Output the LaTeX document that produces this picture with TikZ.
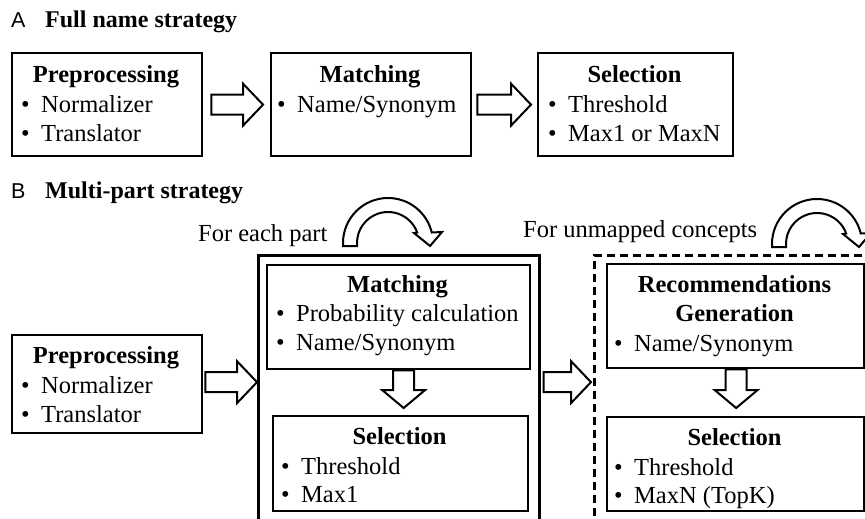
\documentclass[tikz,border=0pt]{standalone}
\usepackage{fontspec}
\setmainfont{Liberation Serif}
\newfontfamily\labfont{Liberation Sans}
\usetikzlibrary{calc}
\tikzset{
 box/.style={draw, line width=2.3pt, anchor=north west, inner sep=0pt},
 txt/.style={inner sep=0pt, font=\fontsize{24.5}{29}\selectfont},
 ttlc/.style={inner sep=0pt, anchor=base, font=\fontsize{24.5}{29}\selectfont\bfseries},
 bul/.style={txt, anchor=base west},
 headline/.style={inner sep=0pt, anchor=base west, font=\fontsize{24}{29}\selectfont\bfseries},
 lab/.style={inner sep=0pt, anchor=base west, font=\labfont\fontsize{21.5}{24}\selectfont},
 barrow/.style={draw, line width=2pt, fill=white, line join=miter},
 curvarrow/.pic={\path[barrow] (-45,3) -- (-45,0) arc[start angle=180,end angle=13.5,radius=45pt] -- (54,-11) -- (42,3) -- (26,-10) -- (29.17,-10.5) arc[start angle=19.8,end angle=180,radius=31pt] -- (-31,3) -- cycle;}
}
\newcommand\bl[1]{\makebox[20pt][l]{•}#1}
\newcommand\rarrow[2]{\path[barrow] let \p1=(#1), \p2=(#2) in (\x1,\y1+10pt) -- (\x2-20pt,\y1+10pt) -- (\x2-20pt,\y1+21pt) -- (\x2,\y1) -- (\x2-20pt,\y1-21pt) -- (\x2-20pt,\y1-10pt) -- (\x1,\y1-10pt) -- cycle;}
\newcommand\darrow[2]{\path[barrow] let \p1=(#1), \p2=(#2) in (\x1-10.5pt,\y1) -- (\x1-10.5pt,\y2+18pt) -- (\x1-21.5pt,\y2+18pt) -- (\x1,\y2) -- (\x1+21.5pt,\y2+18pt) -- (\x1+10.5pt,\y2+18pt) -- (\x1+10.5pt,\y1) -- cycle;}
\begin{document}
\begin{tikzpicture}[x=1pt,y=-1pt]
\clip (0,0) rectangle (865,519);
\fill[white] (0,0) rectangle (865,519);
% ---- A ----
\node[lab] (labA) at (11,28) {A};
\node[headline] (titA) at (45,28) {Full name strategy};
\node[box, minimum width=190pt, minimum height=103pt] (pA) at (11,52) {};
\node[ttlc] (pAt) at (106,82) {Preprocessing};
\node[bul] (pA1) at (21,112) {\bl{Normalizer}};
\node[bul] (pA2) at (21,141) {\bl{Translator}};
\node[box, minimum width=200pt, minimum height=103pt] (mA) at (270,52) {};
\node[ttlc] (mAt) at (370,82) {Matching};
\node[bul] (mA1) at (277,112) {\bl{Name/Synonym}};
\node[box, minimum width=195pt, minimum height=103pt] (sA) at (537,52) {};
\node[ttlc] (sAt) at (634.5,82) {Selection};
\node[bul] (sA1) at (548,112) {\bl{Threshold}};
\node[bul] (sA2) at (548,141) {\bl{Max1 or MaxN}};
\rarrow{$(pA.east)+(8,0)$}{$(mA.west)+(-7,0)$}
\rarrow{$(mA.east)+(5,0)$}{$(sA.west)+(-6,0)$}
% ---- B ----
\node[lab] (labB) at (11,198) {B};
\node[headline] (titB) at (45,198) {Multi-part strategy};
\node[txt, anchor=base west] (each) at (198,241) {For each part};
\node[txt, anchor=base west] (unm) at (523,237) {For unmapped concepts};
\pic at (388,243) {curvarrow};
\pic at (817,244) {curvarrow};
\node[draw, line width=2.6pt, anchor=north west, inner sep=0pt, minimum width=281pt, minimum height=280pt] (outer) at (257,254) {};
\node[draw, line width=2.6pt, dash pattern=on 8pt off 5pt, anchor=north west, inner sep=0pt, minimum width=300pt, minimum height=265.5pt] (dash) at (593,254) {};
\node[box, minimum width=190pt, minimum height=98pt] (pB) at (11,334) {};
\node[ttlc] (pBt) at (106,363) {Preprocessing};
\node[bul] (pB1) at (21,393) {\bl{Normalizer}};
\node[bul] (pB2) at (21,422) {\bl{Translator}};
\node[box, minimum width=263pt, minimum height=104pt] (mB) at (266,264) {};
\node[ttlc] (mBt) at (397.5,292) {Matching};
\node[bul] (mB1) at (276,321) {\bl{Probability calculation}};
\node[bul] (mB2) at (276,350) {\bl{Name/Synonym}};
\node[box, minimum width=255pt, minimum height=95pt] (sB) at (272,415) {};
\node[ttlc] (sBt) at (399.5,444) {Selection};
\node[bul] (sB1) at (281,474) {\bl{Threshold}};
\node[bul] (sB2) at (281,502) {\bl{Max1}};
\node[box, minimum width=257pt, minimum height=104pt] (rC) at (606,263) {};
\node[ttlc] (rCt1) at (734.5,292) {Recommendations};
\node[ttlc] (rCt2) at (734.5,321) {Generation};
\node[bul] (rC1) at (614,351) {\bl{Name/Synonym}};
\node[box, minimum width=257pt, minimum height=94pt] (sC) at (606,416) {};
\node[ttlc] (sCt) at (734.5,445) {Selection};
\node[bul] (sC1) at (614,475) {\bl{Threshold}};
\node[bul] (sC2) at (614,503) {\bl{MaxN (TopK)}};
\rarrow{$(pB.east)+(2,-2)$}{outer.west}
\rarrow{$(outer.east |- pB.east)+(3,-2)$}{$(dash.west)+(-2,0)$}
\darrow{$(mB.south)+(5,0)$}{$(sB.north)+(0,-7)$}
\darrow{$(rC.south)+(0.5,0)$}{$(sC.north)+(0,-8)$}
\end{tikzpicture}
\end{document}
